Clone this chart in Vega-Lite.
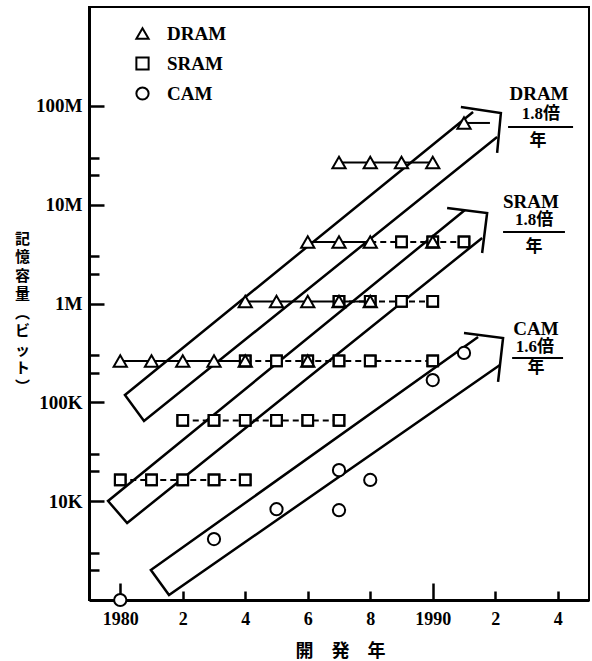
{
  "$schema": "https://vega.github.io/schema/vega-lite/v6.json",
  "width": 500,
  "height": 593,
  "autosize": {"type": "none"},
  "padding": {"left": 89, "top": 7, "right": 3, "bottom": 61},
  "background": "white",
  "config": {
    "view": {"stroke": "black", "strokeWidth": 2},
    "font": "Liberation Serif",
    "axis": {"labelColor": "black", "titleColor": "black", "tickColor": "black", "domainColor": "black", "grid": false},
    "legend": {
      "orient": "none", "legendX": 44, "legendY": 17, "title": null, "padding": 0,
      "symbolSize": 150, "symbolStrokeWidth": 2,
      "labelFont": "Liberation Serif", "labelFontWeight": "bold", "labelFontSize": 19, "labelColor": "black",
      "labelOffset": 15, "rowPadding": 9, "labelBaseline": "middle"
    }
  },
  "datasets": {
    "points": [
      {"type": "SRAM", "year": 1980, "bits": 16384},
      {"type": "SRAM", "year": 1981, "bits": 16384},
      {"type": "SRAM", "year": 1982, "bits": 16384},
      {"type": "SRAM", "year": 1983, "bits": 16384},
      {"type": "SRAM", "year": 1984, "bits": 16384},
      {"type": "SRAM", "year": 1982, "bits": 65536},
      {"type": "SRAM", "year": 1983, "bits": 65536},
      {"type": "SRAM", "year": 1984, "bits": 65536},
      {"type": "SRAM", "year": 1985, "bits": 65536},
      {"type": "SRAM", "year": 1986, "bits": 65536},
      {"type": "SRAM", "year": 1987, "bits": 65536},
      {"type": "SRAM", "year": 1984, "bits": 262144},
      {"type": "SRAM", "year": 1985, "bits": 262144},
      {"type": "SRAM", "year": 1986, "bits": 262144},
      {"type": "SRAM", "year": 1987, "bits": 262144},
      {"type": "SRAM", "year": 1988, "bits": 262144},
      {"type": "SRAM", "year": 1990, "bits": 262144},
      {"type": "SRAM", "year": 1987, "bits": 1048576},
      {"type": "SRAM", "year": 1988, "bits": 1048576},
      {"type": "SRAM", "year": 1989, "bits": 1048576},
      {"type": "SRAM", "year": 1990, "bits": 1048576},
      {"type": "SRAM", "year": 1989, "bits": 4194304},
      {"type": "SRAM", "year": 1990, "bits": 4194304},
      {"type": "SRAM", "year": 1991, "bits": 4194304},
      {"type": "DRAM", "year": 1980, "bits": 262144},
      {"type": "DRAM", "year": 1981, "bits": 262144},
      {"type": "DRAM", "year": 1982, "bits": 262144},
      {"type": "DRAM", "year": 1983, "bits": 262144},
      {"type": "DRAM", "year": 1984, "bits": 262144},
      {"type": "DRAM", "year": 1986, "bits": 262144},
      {"type": "DRAM", "year": 1984, "bits": 1048576},
      {"type": "DRAM", "year": 1985, "bits": 1048576},
      {"type": "DRAM", "year": 1986, "bits": 1048576},
      {"type": "DRAM", "year": 1987, "bits": 1048576},
      {"type": "DRAM", "year": 1988, "bits": 1048576},
      {"type": "DRAM", "year": 1986, "bits": 4194304},
      {"type": "DRAM", "year": 1987, "bits": 4194304},
      {"type": "DRAM", "year": 1988, "bits": 4194304},
      {"type": "DRAM", "year": 1990, "bits": 4194304},
      {"type": "DRAM", "year": 1987, "bits": 26700000},
      {"type": "DRAM", "year": 1988, "bits": 26700000},
      {"type": "DRAM", "year": 1989, "bits": 26700000},
      {"type": "DRAM", "year": 1990, "bits": 26700000},
      {"type": "DRAM", "year": 1991, "bits": 67108864},
      {"type": "CAM", "year": 1980, "bits": 1000},
      {"type": "CAM", "year": 1983, "bits": 4140},
      {"type": "CAM", "year": 1985, "bits": 8300},
      {"type": "CAM", "year": 1987, "bits": 20600},
      {"type": "CAM", "year": 1987, "bits": 8100},
      {"type": "CAM", "year": 1988, "bits": 16400},
      {"type": "CAM", "year": 1990, "bits": 168000},
      {"type": "CAM", "year": 1991, "bits": 316000}
    ],
    "lines": [
      {"type": "SRAM", "row": "S16K", "year": 1980, "bits": 16384},
      {"type": "SRAM", "row": "S16K", "year": 1984, "bits": 16384},
      {"type": "SRAM", "row": "S64K", "year": 1982, "bits": 65536},
      {"type": "SRAM", "row": "S64K", "year": 1987, "bits": 65536},
      {"type": "SRAM", "row": "S256K", "year": 1984, "bits": 262144},
      {"type": "SRAM", "row": "S256K", "year": 1990, "bits": 262144},
      {"type": "SRAM", "row": "S1M", "year": 1987, "bits": 1048576},
      {"type": "SRAM", "row": "S1M", "year": 1990, "bits": 1048576},
      {"type": "SRAM", "row": "S4M", "year": 1988, "bits": 4194304},
      {"type": "SRAM", "row": "S4M", "year": 1991, "bits": 4194304},
      {"type": "DRAM", "row": "D256K", "year": 1980, "bits": 262144},
      {"type": "DRAM", "row": "D256K", "year": 1984, "bits": 262144},
      {"type": "DRAM", "row": "D1M", "year": 1984, "bits": 1048576},
      {"type": "DRAM", "row": "D1M", "year": 1988, "bits": 1048576},
      {"type": "DRAM", "row": "D4M", "year": 1986, "bits": 4194304},
      {"type": "DRAM", "row": "D4M", "year": 1988, "bits": 4194304},
      {"type": "DRAM", "row": "D16M", "year": 1987, "bits": 26700000},
      {"type": "DRAM", "row": "D16M", "year": 1990, "bits": 26700000},
      {"type": "DRAM", "row": "D64M", "year": 1991, "bits": 67108864},
      {"type": "DRAM", "row": "D64M", "year": 1991.83, "bits": 67108864}
    ],
    "arrows": [
      {"part": "DRAM band", "ord": 1, "year": 1991.29, "bits": 86700000},
      {"part": "DRAM band", "ord": 2, "year": 1980.15, "bits": 118600},
      {"part": "DRAM band", "ord": 3, "year": 1980.76, "bits": 64710},
      {"part": "DRAM band", "ord": 4, "year": 1992.06, "bits": 48420000},
      {"part": "DRAM head", "ord": 1, "year": 1990.90, "bits": 97270000},
      {"part": "DRAM head", "ord": 2, "year": 1992.18, "bits": 84530000},
      {"part": "DRAM head", "ord": 3, "year": 1992.06, "bits": 33340000},
      {"part": "SRAM band", "ord": 1, "year": 1991.03, "bits": 8831000},
      {"part": "SRAM band", "ord": 2, "year": 1979.61, "bits": 10046},
      {"part": "SRAM band", "ord": 3, "year": 1980.22, "bits": 6012},
      {"part": "SRAM band", "ord": 4, "year": 1991.58, "bits": 4603000},
      {"part": "SRAM head", "ord": 1, "year": 1990.46, "bits": 9247000},
      {"part": "SRAM head", "ord": 2, "year": 1991.74, "bits": 8241000},
      {"part": "SRAM head", "ord": 3, "year": 1991.58, "bits": 3243000},
      {"part": "CAM band", "ord": 1, "year": 1991.45, "bits": 458100},
      {"part": "CAM band", "ord": 2, "year": 1980.98, "bits": 2009},
      {"part": "CAM band", "ord": 3, "year": 1981.56, "bits": 1122},
      {"part": "CAM band", "ord": 4, "year": 1992.15, "bits": 238800},
      {"part": "CAM head", "ord": 1, "year": 1991.0, "bits": 502300},
      {"part": "CAM head", "ord": 2, "year": 1992.25, "bits": 447700},
      {"part": "CAM head", "ord": 3, "year": 1992.09, "bits": 160700}
    ],
    "notes": [
      {"kind": "name", "text": "DRAM", "year": 1993.4, "bits": 131800000},
      {"kind": "ratio", "text": "1.8倍", "year": 1993.46, "bits": 82600000},
      {"kind": "unit", "text": "年", "year": 1993.37, "bits": 44100000},
      {"kind": "name", "text": "SRAM", "year": 1993.14, "bits": 10640000},
      {"kind": "ratio", "text": "1.8倍", "year": 1993.24, "bits": 7000000},
      {"kind": "unit", "text": "年", "year": 1993.24, "bits": 3730000},
      {"kind": "name", "text": "CAM", "year": 1993.30, "bits": 552000},
      {"kind": "ratio", "text": "1.6倍", "year": 1993.27, "bits": 363000},
      {"kind": "unit", "text": "年", "year": 1993.30, "bits": 222000}
    ],
    "bars": [
      {"year": 1992.41, "year2": 1994.49, "bits": 61100000},
      {"year": 1992.25, "year2": 1994.23, "bits": 5280000},
      {"year": 1992.54, "year2": 1994.17, "bits": 281000}
    ]
  },
  "layer": [
    {
      "data": {"name": "arrows"},
      "mark": {"type": "line", "stroke": "black", "strokeWidth": 2.5, "strokeJoin": "miter"},
      "encoding": {
        "x": {
          "field": "year", "type": "quantitative",
          "scale": {"type": "linear", "domain": [1979, 1995], "nice": false, "zero": false},
          "axis": {
            "orient": "bottom",
            "values": [1980, 1982, 1984, 1986, 1988, 1990, 1992, 1994],
            "ticks": false,
            "domain": true, "domainWidth": 3,
            "labelExpr": "datum.value % 10 == 0 ? toString(datum.value) : toString(datum.value % 10)",
            "labelFont": "Liberation Serif", "labelFontWeight": "bold", "labelFontSize": 18,
            "labelPadding": 10, "labelFlush": false, "labelOverlap": false,
            "title": "開　発　年",
            "titleFont": "Noto Sans CJK JP", "titleFontWeight": "bold", "titleFontSize": 18,
            "titleX": 251, "titleY": 42, "titleBaseline": "top", "titleAlign": "center"
          }
        },
        "y": {
          "field": "bits", "type": "quantitative",
          "scale": {"type": "log", "domain": [1000, 1000000000], "nice": false},
          "axis": {
            "orient": "left",
            "values": [10000, 100000, 1000000, 10000000, 100000000],
            "ticks": false,
            "domain": true, "domainWidth": 3,
            "labelExpr": "datum.value >= 1000000 ? format(datum.value / 1000000, 'd') + 'M' : format(datum.value / 1000, 'd') + 'K'",
            "labelFont": "Liberation Serif", "labelFontWeight": "bold", "labelFontSize": 19,
            "labelPadding": 7, "labelFlush": false, "labelOverlap": false, "labelBaseline": "middle",
            "title": ["記", "憶", "容", "量", "︵", "ビ", "ッ", "ト", "︶"],
            "titleAngle": 0, "titleX": -67, "titleY": 224, "titleAlign": "center", "titleBaseline": "top",
            "titleLineHeight": 18.5,
            "titleFont": "Noto Sans CJK JP", "titleFontSize": 15, "titleFontWeight": "bold"
          }
        },
        "detail": {"field": "part"},
        "order": {"field": "ord"}
      }
    },
    {
      "data": {"name": "lines"},
      "transform": [{"filter": "datum.type == 'SRAM'"}],
      "mark": {"type": "line", "stroke": "black", "strokeWidth": 2, "strokeDash": [6, 4]},
      "encoding": {
        "x": {
          "field": "year", "type": "quantitative",
          "scale": {"type": "linear", "domain": [1979, 1995], "nice": false, "zero": false},
          "axis": {
            "orient": "top", "offset": -593,
            "values": [1980, 1990],
            "labels": false, "domain": false, "title": null,
            "ticks": true, "tickSize": 17, "tickWidth": 2.5
          }
        },
        "y": {
          "field": "bits", "type": "quantitative",
          "scale": {"type": "log", "domain": [1000, 1000000000], "nice": false},
          "axis": {
            "orient": "right", "offset": -500,
            "values": [10000, 100000, 1000000, 10000000, 100000000],
            "labels": false, "domain": false, "title": null,
            "ticks": true, "tickSize": 15, "tickWidth": 2.5
          }
        },
        "detail": {"field": "row"}
      }
    },
    {
      "data": {"name": "lines"},
      "transform": [{"filter": "datum.type == 'DRAM'"}],
      "mark": {"type": "line", "stroke": "black", "strokeWidth": 2},
      "encoding": {
        "x": {
          "field": "year", "type": "quantitative",
          "scale": {"type": "linear", "domain": [1979, 1995], "nice": false, "zero": false},
          "axis": {
            "orient": "top", "offset": -593,
            "values": [1982, 1984, 1986, 1988, 1992, 1994],
            "labels": false, "domain": false, "title": null,
            "ticks": true, "tickSize": 9, "tickWidth": 2.5
          }
        },
        "y": {
          "field": "bits", "type": "quantitative",
          "scale": {"type": "log", "domain": [1000, 1000000000], "nice": false},
          "axis": {
            "orient": "right", "offset": -500,
            "values": [2000, 3000, 20000, 30000, 200000, 300000, 2000000, 3000000, 20000000, 30000000],
            "labels": false, "domain": false, "title": null,
            "ticks": true, "tickSize": 10, "tickWidth": 2.5
          }
        },
        "detail": {"field": "row"}
      }
    },
    {
      "data": {"name": "bars"},
      "mark": {"type": "rule", "stroke": "black", "strokeWidth": 2},
      "encoding": {
        "x": {"field": "year", "type": "quantitative", "scale": {"type": "linear", "domain": [1979, 1995], "nice": false, "zero": false}, "axis": null},
        "x2": {"field": "year2"},
        "y": {"field": "bits", "type": "quantitative", "scale": {"type": "log", "domain": [1000, 1000000000], "nice": false}, "axis": null}
      }
    },
    {
      "data": {"name": "points"},
      "transform": [{"filter": "datum.type == 'SRAM'"}],
      "mark": {"type": "point", "filled": false, "fill": "white", "stroke": "black", "strokeWidth": 2, "opacity": 1, "size": 115},
      "encoding": {
        "x": {"field": "year", "type": "quantitative", "scale": {"type": "linear", "domain": [1979, 1995], "nice": false, "zero": false}, "axis": null},
        "y": {"field": "bits", "type": "quantitative", "scale": {"type": "log", "domain": [1000, 1000000000], "nice": false}, "axis": null},
        "shape": {
          "field": "type", "type": "nominal",
          "scale": {"domain": ["DRAM", "SRAM", "CAM"], "range": ["triangle-up", "square", "circle"]},
          "legend": {
            "orient": "none", "legendX": 44, "legendY": 17,
            "encode": {"symbols": {"fill": {"value": "white"}, "stroke": {"value": "black"}, "strokeWidth": {"value": 2}, "opacity": {"value": 1}}}
          }
        }
      }
    },
    {
      "data": {"name": "points"},
      "transform": [{"filter": "datum.type == 'DRAM'"}],
      "mark": {"type": "point", "filled": false, "fill": "white", "stroke": "black", "strokeWidth": 2, "opacity": 1, "size": 175},
      "encoding": {
        "x": {"field": "year", "type": "quantitative", "scale": {"type": "linear", "domain": [1979, 1995], "nice": false, "zero": false}, "axis": null},
        "y": {"field": "bits", "type": "quantitative", "scale": {"type": "log", "domain": [1000, 1000000000], "nice": false}, "axis": null},
        "shape": {
          "field": "type", "type": "nominal",
          "scale": {"domain": ["DRAM", "SRAM", "CAM"], "range": ["triangle-up", "square", "circle"]},
          "legend": {
            "orient": "none", "legendX": 44, "legendY": 17,
            "encode": {"symbols": {"fill": {"value": "white"}, "stroke": {"value": "black"}, "strokeWidth": {"value": 2}, "opacity": {"value": 1}}}
          }
        }
      }
    },
    {
      "data": {"name": "points"},
      "transform": [{"filter": "datum.type == 'CAM'"}],
      "mark": {"type": "point", "filled": false, "fill": "white", "stroke": "black", "strokeWidth": 2, "opacity": 1, "size": 150},
      "encoding": {
        "x": {"field": "year", "type": "quantitative", "scale": {"type": "linear", "domain": [1979, 1995], "nice": false, "zero": false}, "axis": null},
        "y": {"field": "bits", "type": "quantitative", "scale": {"type": "log", "domain": [1000, 1000000000], "nice": false}, "axis": null},
        "shape": {
          "field": "type", "type": "nominal",
          "scale": {"domain": ["DRAM", "SRAM", "CAM"], "range": ["triangle-up", "square", "circle"]},
          "legend": {
            "orient": "none", "legendX": 44, "legendY": 17,
            "encode": {"symbols": {"fill": {"value": "white"}, "stroke": {"value": "black"}, "strokeWidth": {"value": 2}, "opacity": {"value": 1}}}
          }
        }
      }
    },
    {
      "data": {"name": "points"},
      "transform": [{"filter": "datum.type == 'SRAM'"}],
      "mark": {"type": "point", "filled": false, "stroke": "black", "strokeWidth": 2, "opacity": 1, "shape": "square", "size": 115},
      "encoding": {
        "x": {"field": "year", "type": "quantitative", "scale": {"type": "linear", "domain": [1979, 1995], "nice": false, "zero": false}, "axis": null},
        "y": {"field": "bits", "type": "quantitative", "scale": {"type": "log", "domain": [1000, 1000000000], "nice": false}, "axis": null}
      }
    },
    {
      "data": {"name": "notes"},
      "transform": [{"filter": "datum.kind == 'name'"}],
      "mark": {"type": "text", "font": "Liberation Serif", "fontWeight": "bold", "fontSize": 19, "color": "black", "align": "center", "baseline": "middle"},
      "encoding": {
        "x": {"field": "year", "type": "quantitative", "scale": {"type": "linear", "domain": [1979, 1995], "nice": false, "zero": false}, "axis": null},
        "y": {"field": "bits", "type": "quantitative", "scale": {"type": "log", "domain": [1000, 1000000000], "nice": false}, "axis": null},
        "text": {"field": "text"}
      }
    },
    {
      "data": {"name": "notes"},
      "transform": [{"filter": "datum.kind == 'ratio'"}],
      "mark": {"type": "text", "font": "Liberation Serif, Noto Sans CJK JP", "fontWeight": "bold", "fontSize": 17, "color": "black", "align": "center", "baseline": "middle"},
      "encoding": {
        "x": {"field": "year", "type": "quantitative", "scale": {"type": "linear", "domain": [1979, 1995], "nice": false, "zero": false}, "axis": null},
        "y": {"field": "bits", "type": "quantitative", "scale": {"type": "log", "domain": [1000, 1000000000], "nice": false}, "axis": null},
        "text": {"field": "text"}
      }
    },
    {
      "data": {"name": "notes"},
      "transform": [{"filter": "datum.kind == 'unit'"}],
      "mark": {"type": "text", "font": "Noto Sans CJK JP", "fontWeight": "bold", "fontSize": 17, "color": "black", "align": "center", "baseline": "middle"},
      "encoding": {
        "x": {"field": "year", "type": "quantitative", "scale": {"type": "linear", "domain": [1979, 1995], "nice": false, "zero": false}, "axis": null},
        "y": {"field": "bits", "type": "quantitative", "scale": {"type": "log", "domain": [1000, 1000000000], "nice": false}, "axis": null},
        "text": {"field": "text"}
      }
    }
  ],
  "resolve": {"axis": {"x": "independent", "y": "independent"}}
}
